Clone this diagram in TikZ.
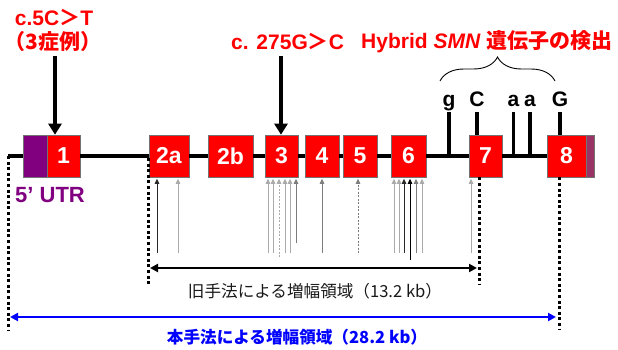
\documentclass[tikz,border=0pt]{standalone}
\usepackage{fontspec}
\setmainfont{Liberation Sans}
\newfontfamily\jp{Noto Sans CJK JP}
\usetikzlibrary{arrows.meta,decorations.pathreplacing}
\definecolor{exred}{RGB}{255,0,0}
\definecolor{utr}{RGB}{128,0,128}
\definecolor{utrb}{RGB}{153,51,102}
\definecolor{lgray}{RGB}{170,170,170}
\definecolor{mgray}{RGB}{125,125,125}
\definecolor{dgray}{RGB}{40,40,40}
\begin{document}
\begin{tikzpicture}[x=1pt,y=-1pt,
  exon/.style={draw=black!55, line width=0.6pt, fill=exred, text=white,
    font=\bfseries\fontsize{23}{23}\selectfont, minimum height=42pt, inner sep=0pt},
  utrbox/.style={draw=black!55, line width=0.6pt, minimum height=42pt, inner sep=0pt},
  mainline/.style={line width=3.4pt},
  tickline/.style={line width=3.4pt},
  bigarr/.style={line width=3.2pt, -{Triangle[length=11pt,width=13pt]}},
  thinarr/.style={line width=0.9pt, -{Triangle[length=5pt,width=4.5pt]}, shorten >=1.5pt},
  dotline/.style={line width=3pt, dash pattern=on 3pt off 2.6pt},
  snp/.style={font=\bfseries\fontsize{21}{21}\selectfont, anchor=base, text depth=4pt, inner sep=1pt},
  redtxt/.style={text=exred, font=\bfseries\fontsize{21}{23}\selectfont, inner sep=0pt},
  dbl/.style={line width=2.6pt, {Triangle[length=8pt,width=8pt]}-{Triangle[length=8pt,width=8pt]}}
]
\useasboundingbox (0,0) rectangle (618,350);

% main line
\coordinate (L) at (8,156);
\node[utrbox, fill=utr, minimum width=24pt] (e1u) at (35,156) {};
\node[exon, minimum width=33pt] (e1) at (63.5,156) {1};
\node[exon, minimum width=40pt] (e2a) at (169,156) {2a};
\node[exon, minimum width=45pt] (e2b) at (230.5,156) {2b};
\node[exon, minimum width=33pt] (e3) at (281.5,156) {3};
\node[exon, minimum width=34pt] (e4) at (322,156) {4};
\node[exon, minimum width=34pt] (e5) at (360,156) {5};
\node[exon, minimum width=35pt] (e6) at (408.5,156) {6};
\node[exon, minimum width=33pt] (e7) at (485.5,156) {7};
\node[exon, minimum width=39pt] (e8) at (566.5,156) {8};
\node[utrbox, fill=utrb, minimum width=8pt] (e8u) at (590,156) {};

\draw[mainline] (L) -- (e1u.west |- L);
\draw[mainline] (e1.east |- L) -- (e2a.west |- L);
\draw[mainline] (e2a.east |- L) -- (e2b.west |- L);
\draw[mainline] (e2b.east |- L) -- (e3.west |- L);
\draw[mainline] (e3.east |- L) -- (e4.west |- L);
\draw[mainline] (e4.east |- L) -- (e5.west |- L);
\draw[mainline] (e5.east |- L) -- (e6.west |- L);
\draw[mainline] (e6.east |- L) -- (e7.west |- L);
\draw[mainline] (e7.east |- L) -- (e8.west |- L);

% 5' UTR
\node[text=utr, font=\bfseries\fontsize{22}{22}\selectfont, anchor=west, inner sep=0pt] (utrlbl) at (15,195) {5’ UTR};

% SNP ticks
\node[snp] (lg) at (449,107) {g};
\node[snp] (lC) at (477,107) {C};
\node[snp] (la1) at (513.5,107) {a};
\node[snp] (la2) at (530,107) {a};
\node[snp] (lG) at (560,107) {G};
\draw[tickline] (lg.south) -- (lg.south |- L);
\draw[tickline] (lC.south) -- (lC.south |- e7.north);
\draw[tickline] (la1.south) -- (la1.south |- L);
\draw[tickline] (la2.south) -- (la2.south |- L);
\draw[tickline] (lG.south) -- (lG.south |- e8.north);

% brace
\draw[line width=0.9pt, decorate, decoration={brace, amplitude=24pt}] (440,81) -- (555,81);

% red annotations
\node[redtxt] (m1) at (54,18) {c.5C{\jp ＞}T};
\node[redtxt] (m1b) at (53,42) {\jp （3症例）};
\node[redtxt, anchor=west] (m3) at (231,42) {c. 275G{\jp ＞}C};
\node[redtxt, anchor=west] (hy) at (361,42) {Hybrid \textit{SMN} {\jp 遺伝子の検出}};

\coordinate (a1top) at (55,56);
\coordinate (a3top) at (281,56);
\draw[bigarr] (a1top) -- (e1.north -| a1top);
\draw[bigarr] (a3top) -- (e3.north -| a3top);

% thin arrows (primers)
\draw[thinarr, dgray] (157,253) -- (e2a.south -| 157,0);
\draw[thinarr, lgray] (178,253) -- (e2a.south -| 178,0);
\draw[thinarr, lgray] (268,253) -- (e3.south -| 268,0);
\draw[thinarr, lgray] (273,253) -- (e3.south -| 273,0);
\draw[thinarr, lgray, dash pattern=on 2pt off 1.5pt] (279,257) -- (e3.south -| 279,0);
\draw[thinarr, lgray] (285,253) -- (e3.south -| 285,0);
\draw[thinarr, lgray] (290,253) -- (e3.south -| 290,0);
\draw[thinarr, mgray] (296,243) -- (e3.south -| 296,0);
\draw[thinarr, mgray] (322,253) -- (e4.south -| 322,0);
\draw[thinarr, mgray, dash pattern=on 2pt off 1.5pt] (358,253) -- (e5.south -| 358,0);
\draw[thinarr, lgray] (394,253) -- (e6.south -| 394,0);
\draw[thinarr, lgray] (399,253) -- (e6.south -| 399,0);
\draw[thinarr, dgray] (404,253) -- (e6.south -| 404,0);
\draw[thinarr, black] (410,260) -- (e6.south -| 410,0);
\draw[thinarr, mgray] (416,253) -- (e6.south -| 416,0);
\draw[thinarr, lgray] (422,253) -- (e6.south -| 422,0);
\draw[thinarr, lgray] (471,253) -- (e7.south -| 471,0);

% dotted extents
\coordinate (dL2) at (148,158);
\coordinate (dL2b) at (148,284);
\coordinate (dR2b) at (479,284);
\coordinate (dL1b) at (8,330);
\coordinate (dR1b) at (559,330);
\draw[dotline] (L) -- (dL1b);
\draw[dotline] (dL2) -- (dL2b);
\draw[dotline] (e7.south -| dR2b) -- (dR2b);
\draw[dotline] (e8.south -| dR1b) -- (dR1b);

\draw[dbl, black] ([xshift=2pt]dL2b |- 0,268) -- ([xshift=-2pt]dR2b |- 0,268);
\draw[dbl, blue] ([xshift=2pt]dL1b |- 0,317) -- ([xshift=-3pt]dR1b |- 0,317);

\node[font=\jp\fontsize{16.6}{17}\selectfont, text=black!90, inner sep=0pt] (old) at (315,291) {旧手法による増幅領域（13.2 kb）};
\node[font=\jp\bfseries\fontsize{16.6}{17}\selectfont, text=blue, inner sep=0pt] (new) at (297,337) {本手法による増幅領域（28.2 kb）};
\end{tikzpicture}
\end{document}
